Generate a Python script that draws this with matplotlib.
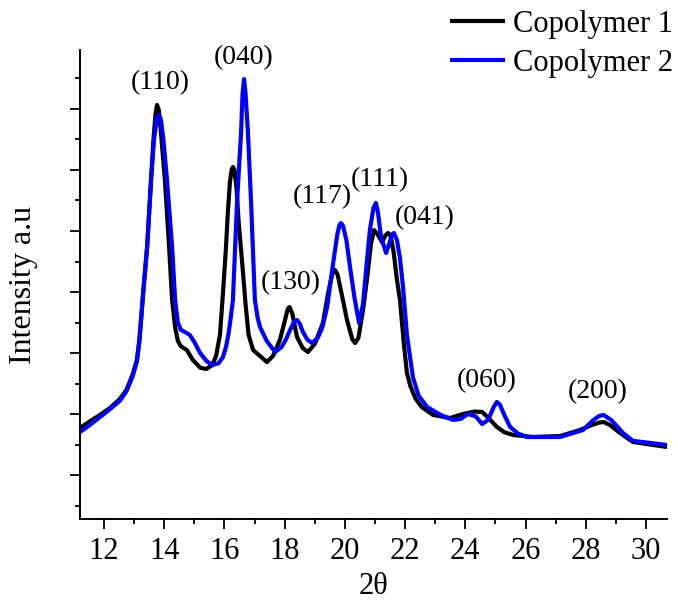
import matplotlib
matplotlib.use("Agg")
import matplotlib.pyplot as plt
from matplotlib.ticker import MultipleLocator, NullFormatter

plt.rcParams['font.family'] = ['Liberation Serif', 'DejaVu Serif']

# Copolymer 1 (black)
x1 = [11.2, 11.5, 11.86, 12.2, 12.53, 12.75, 12.95, 13.09, 13.17, 13.22, 13.30, 13.43,
      13.56, 13.64, 13.71, 13.76, 13.82, 13.90, 14.02, 14.16, 14.26, 14.36, 14.45, 14.55,
      14.75, 14.95, 15.19, 15.39, 15.59, 15.72, 15.85, 15.95,
      16.05, 16.11, 16.18, 16.24, 16.28, 16.33, 16.40, 16.47, 16.58, 16.70, 16.80, 16.95,
      17.18, 17.41, 17.61, 17.84, 18.02, 18.10, 18.16, 18.25, 18.41, 18.60, 18.77, 19.0,
      19.27, 19.45, 19.58, 19.67, 19.76, 19.90, 20.07, 20.25, 20.34, 20.45, 20.60, 20.73,
      20.87, 20.97, 21.08, 21.23, 21.35, 21.43, 21.52, 21.62, 21.73, 21.83, 21.95, 22.06,
      22.18, 22.35, 22.55, 22.93, 23.49, 23.92, 24.3, 24.56, 24.8, 25.05, 25.3, 25.59,
      26.25, 27.15, 27.81, 28.2, 28.45, 28.6, 28.8, 29.14, 29.57, 30.70]
y1 = [1770, 1870, 1984, 2100, 2250, 2400, 2650, 2885, 3200, 3500, 4000, 4738,
      5836, 6500, 6920, 7066, 6980, 6550, 5836, 4738, 3869, 3420, 3200, 3110,
      3049, 2885, 2760, 2738, 2800, 2950, 3300, 3984,
      4738, 5295, 5800, 6010, 6049, 6000, 5700, 5150, 4525, 3800, 3300, 3049,
      2950, 2852, 2950, 3213, 3560, 3720, 3754, 3650, 3262, 3080, 3016, 3150,
      3492, 4000, 4300, 4361, 4280, 3950, 3541, 3220, 3164, 3250, 3700, 4197,
      4800, 5016, 4950, 4820, 4930, 4967, 4920, 4650, 4197, 3869, 3200, 2672,
      2450, 2250, 2115, 1984, 1934, 2000, 2040, 2033, 1920, 1787, 1700, 1656,
      1623, 1639, 1738, 1820, 1860, 1869, 1820, 1689, 1541, 1459]

# Copolymer 2 (blue)
x2 = [11.2, 11.5, 11.86, 12.2, 12.53, 12.75, 12.95, 13.09, 13.17, 13.22, 13.30, 13.43,
      13.56, 13.66, 13.75, 13.82, 13.89, 13.97, 14.09, 14.26, 14.36, 14.45, 14.55, 14.70,
      14.85, 15.0, 15.19, 15.40, 15.59, 15.80, 15.95, 16.05, 16.13, 16.20, 16.28,
      16.42, 16.55, 16.60, 16.65, 16.70, 16.78, 16.88, 17.01, 17.10, 17.18, 17.40, 17.68,
      17.90, 18.05, 18.18, 18.32, 18.41, 18.50, 18.60, 18.75, 18.91, 19.10, 19.25, 19.41,
      19.61, 19.75, 19.82, 19.87, 19.94, 20.05, 20.17, 20.32, 20.47, 20.60, 20.73, 20.83,
      20.95, 21.03, 21.10, 21.20, 21.37, 21.48, 21.57, 21.63, 21.73, 21.83, 21.93, 22.06,
      22.26, 22.45, 22.73, 23.2, 23.59, 23.85, 24.09, 24.35, 24.56, 24.75, 24.95, 25.05,
      25.15, 25.3, 25.49, 25.75, 26.05, 27.15, 27.91, 28.25, 28.45, 28.6, 28.85, 29.24,
      29.57, 30.70]
y2 = [1705, 1810, 1950, 2080, 2220, 2380, 2620, 2860, 3180, 3480, 3990, 4738,
      5836, 6500, 6850, 6902, 6820, 6500, 5836, 4738, 3869, 3500, 3380, 3340,
      3295, 3180, 3000, 2870, 2803, 2830, 2934, 3100, 3300, 3550, 3869,
      5508, 6607, 7250, 7492, 7250, 6607, 5508, 3869, 3580, 3426, 3200, 3016,
      3100, 3230, 3377, 3520, 3541, 3480, 3350, 3220, 3164, 3250, 3420, 3754,
      4475, 4950, 5100, 5131, 5080, 4850, 4410, 3900, 3492, 3800, 4500, 5016,
      5380, 5459, 5300, 4900, 4639, 4800, 4950, 4967, 4850, 4550, 4082, 3300,
      2600, 2300, 2115, 1980, 1902, 1920, 2000, 1960, 1836, 1900, 2120, 2197,
      2150, 1980, 1787, 1680, 1623, 1623, 1738, 1900, 1970, 1984, 1900, 1689,
      1560, 1492]

series_labels = ['Copolymer 1', 'Copolymer 2']
peak_labels = ['(110)', '(040)', '(130)', '(117)', '(111)', '(041)', '(060)', '(200)']
peak_x = [13.86, 16.65, 18.21, 19.24, 21.17, 22.66, 24.72, 28.41]
peak_y = [7426, 7836, 4148, 5557, 5836, 5213, 2541, 2361]

fig = plt.figure(figsize=(6.78, 6.01), dpi=100)
ax = fig.add_axes([80/678, 82/601, 587/678, 469/601])

ax.plot(x1, y1, color='black', lw=3.0, label=series_labels[0],
        solid_joinstyle='round', solid_capstyle='butt')
ax.plot(x2, y2, color='#0000ff', lw=3.0, label=series_labels[1],
        solid_joinstyle='round', solid_capstyle='butt')

for t, px, py in zip(peak_labels, peak_x, peak_y):
    ax.text(px, py, t, ha='center', va='center', fontsize=20)

ax.set_xlim(11.2, 30.7)
ax.set_ylim(279, 7967)
ax.xaxis.set_major_locator(MultipleLocator(2))
ax.xaxis.set_minor_locator(MultipleLocator(1))
ax.yaxis.set_major_locator(MultipleLocator(1000))
ax.yaxis.set_minor_locator(MultipleLocator(500))
ax.yaxis.set_major_formatter(NullFormatter())
ax.spines['top'].set_visible(False)
ax.spines['right'].set_visible(False)
for s in ['left', 'bottom']:
    ax.spines[s].set_linewidth(1.4)
ax.tick_params(axis='both', which='major', direction='out', length=7, width=1.3, labelsize=22, pad=6)
ax.tick_params(axis='both', which='minor', direction='out', length=3.5, width=1.3)

ax.set_xlabel('2θ', fontsize=22, labelpad=4)
ax.set_ylabel('Intensity a.u', fontsize=23, labelpad=17)

fig.legend(loc='upper right', bbox_to_anchor=(673/678, 1 - 10/601), frameon=False,
           fontsize=22, handlelength=1.8, handletextpad=0.26, labelspacing=0.32, borderpad=0,
           borderaxespad=0)

fig.savefig('out.png', dpi=100)
